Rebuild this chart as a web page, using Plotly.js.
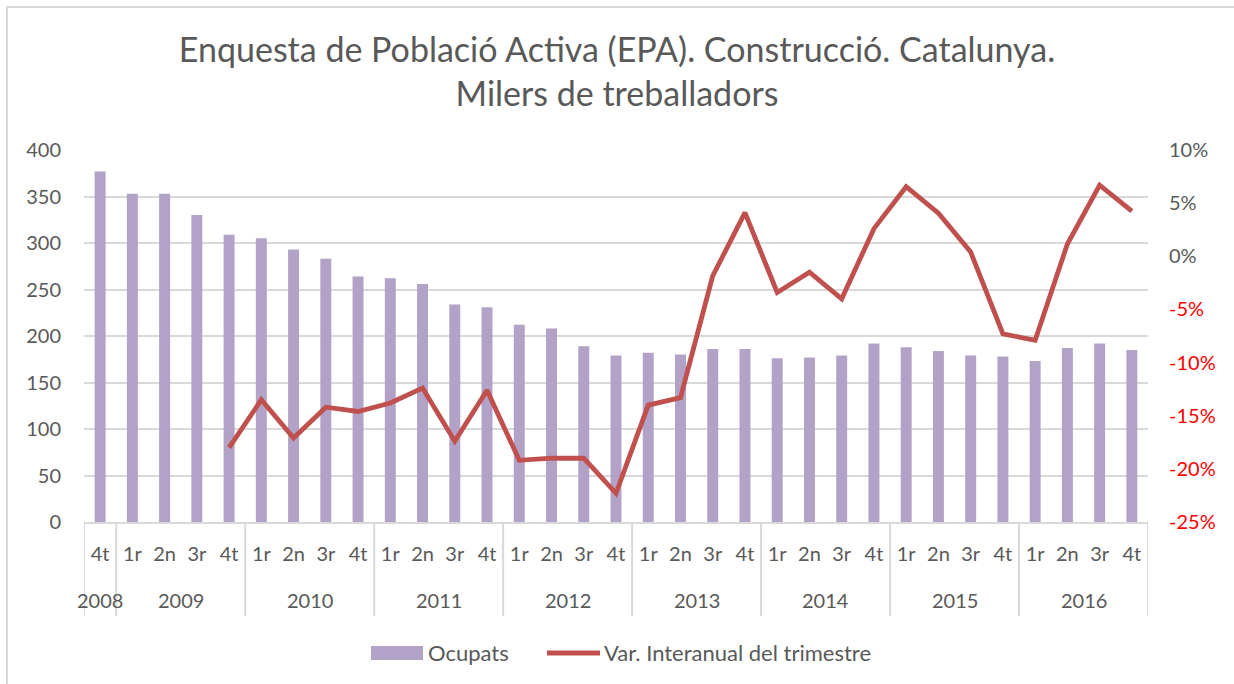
<!DOCTYPE html>
<html>
<head>
<meta charset="utf-8">
<script src="https://cdn.plot.ly/plotly-3.0.1.min.js"></script>
<style>
  html, body { margin: 0; padding: 0; background: #fff; }
  #frame { position: absolute; left: 6px; top: 6px; width: 1260px; height: 700px; border: 2px solid #d9d9d9; box-sizing: border-box; }
  #chart { position: absolute; left: 0; top: 0; width: 1234px; height: 684px; }
</style>
</head>
<body>
<div id="frame"></div>
<div id="chart"></div>
<script>
// Years (group labels) and quarters
const years = ["2008",
  "2009","2009","2009","2009",
  "2010","2010","2010","2010",
  "2011","2011","2011","2011",
  "2012","2012","2012","2012",
  "2013","2013","2013","2013",
  "2014","2014","2014","2014",
  "2015","2015","2015","2015",
  "2016","2016","2016","2016"];
const quarters = ["4t",
  "1r","2n","3r","4t",
  "1r","2n","3r","4t",
  "1r","2n","3r","4t",
  "1r","2n","3r","4t",
  "1r","2n","3r","4t",
  "1r","2n","3r","4t",
  "1r","2n","3r","4t",
  "1r","2n","3r","4t"];
// Ocupats (milers de treballadors)
const ocupats = [377,
  353, 353, 330, 309,
  305, 293, 283, 264,
  262, 256, 234, 231,
  212, 208, 189, 179,
  182, 180, 186, 186,
  176, 177, 179, 192,
  188, 184, 179, 178,
  173, 187, 192, 185];
// Var. interanual del trimestre (%)
const varInteranual = [null,
  null, null, null, -18.0,
  -13.5, -17.1, -14.2, -14.6,
  -13.8, -12.4, -17.4, -12.6,
  -19.2, -19.0, -19.0, -22.3,
  -14.0, -13.3, -1.85, 4.1,
  -3.4, -1.5, -4.0, 2.6,
  6.55, 4.05, 0.4, -7.3,
  -7.9, 1.15, 6.7, 4.25];
// Right axis ticks
const pctTicks = [10, 5, 0, -5, -10, -15, -20, -25];
// Legend labels
const legendLabels = ["Ocupats", "Var. Interanual del trimestre"];

const FONT = "Lato, 'Open Sans', sans-serif";
const GREY = "#595959";
const BAR_COLOR = "#B3A2C7";
const LINE_COLOR = "#C0504D";
const DIV_COLOR = "#d9d9d9";

const idx = quarters.map((q, i) => i);

// Year groups derived from the years array
const groups = [];
years.forEach((y, i) => {
  const g = groups[groups.length - 1];
  if (g && g.year === y) g.end = i;
  else groups.push({ year: y, start: i, end: i });
});

const shapes = [];
const annotations = [];
// Group dividers below the axis
const boundaries = [groups[0].start - 0.5].concat(groups.map(g => g.end + 0.5));
boundaries.forEach(b => shapes.push({
  type: "line", xref: "x", yref: "paper",
  x0: b, x1: b, y0: 0, y1: -0.253,
  line: { color: DIV_COLOR, width: 2 }
}));
// Year labels
groups.forEach(g => annotations.push({
  xref: "x", yref: "paper",
  x: (g.start + g.end) / 2, y: -0.21,
  yanchor: "middle", xanchor: "center",
  text: g.year, showarrow: false,
  font: { family: FONT, size: 20, color: GREY }
}));

// Custom legend (paper coords: x=(px-84)/1064, y=(522-py)/372)
const px = v => (v - 84) / 1064;
const py = v => (522 - v) / 372;
shapes.push({
  type: "rect", xref: "paper", yref: "paper",
  x0: px(371), x1: px(423), y0: py(646), y1: py(660),
  fillcolor: BAR_COLOR, line: { width: 0 }
});
shapes.push({
  type: "line", xref: "paper", yref: "paper",
  x0: px(547), x1: px(600), y0: py(653), y1: py(653),
  line: { color: LINE_COLOR, width: 5 }
});
annotations.push({
  xref: "paper", yref: "paper", x: px(426), y: py(652),
  xanchor: "left", yanchor: "middle", showarrow: false,
  text: legendLabels[0], font: { family: FONT, size: 22, color: GREY }
});
annotations.push({
  xref: "paper", yref: "paper", x: px(602), y: py(652),
  xanchor: "left", yanchor: "middle", showarrow: false,
  text: legendLabels[1], font: { family: FONT, size: 22, color: GREY }
});

const traces = [
  {
    type: "bar",
    name: legendLabels[0],
    x: idx,
    y: ocupats,
    marker: { color: BAR_COLOR },
    yaxis: "y"
  },
  {
    type: "scatter",
    mode: "lines",
    name: legendLabels[1],
    x: idx,
    y: varInteranual,
    line: { color: LINE_COLOR, width: 4.8 },
    connectgaps: false,
    yaxis: "y2"
  }
];

const layout = {
  width: 1234,
  height: 684,
  paper_bgcolor: "rgba(0,0,0,0)",
  plot_bgcolor: "rgba(0,0,0,0)",
  margin: { l: 84, r: 86, t: 150, b: 162 },
  font: { family: FONT, color: GREY, size: 19 },
  title: {
    text: "Enquesta de Població Activa (EPA). Construcció. Catalunya.<br>Milers de treballadors",
    font: { family: FONT, size: 34, color: GREY },
    x: 0.5, xref: "container", xanchor: "center",
    y: 0.91, yref: "container", yanchor: "middle"
  },
  bargap: 0.66,
  showlegend: false,
  shapes: shapes,
  annotations: annotations,
  xaxis: {
    range: [-0.5, quarters.length - 0.5],
    tickvals: idx,
    ticktext: quarters,
    showline: true,
    linecolor: DIV_COLOR,
    linewidth: 2,
    ticks: "",
    showgrid: false,
    zeroline: false,
    ticklabelstandoff: 13,
    tickangle: 0,
    tickfont: { family: FONT, size: 20, color: GREY }
  },
  yaxis: {
    range: [0, 400],
    dtick: 50,
    tick0: 0,
    showgrid: true,
    gridcolor: DIV_COLOR,
    gridwidth: 2,
    zeroline: false,
    showline: false,
    ticks: "",
    ticklabelstandoff: 22,
    tickfont: { family: FONT, size: 20, color: GREY }
  },
  yaxis2: {
    overlaying: "y",
    side: "right",
    range: [-25, 10],
    tickvals: pctTicks,
    ticktext: pctTicks.map(v => v < 0
      ? '<span style="color:#FF0000">' + v + '%</span>'
      : v + '%'),
    showgrid: false,
    zeroline: false,
    showline: false,
    ticks: "",
    ticklabelstandoff: 20,
    tickfont: { family: FONT, size: 20, color: GREY }
  }
};

Plotly.newPlot("chart", traces, layout, { displayModeBar: false, staticPlot: true });
</script>
</body>
</html>
